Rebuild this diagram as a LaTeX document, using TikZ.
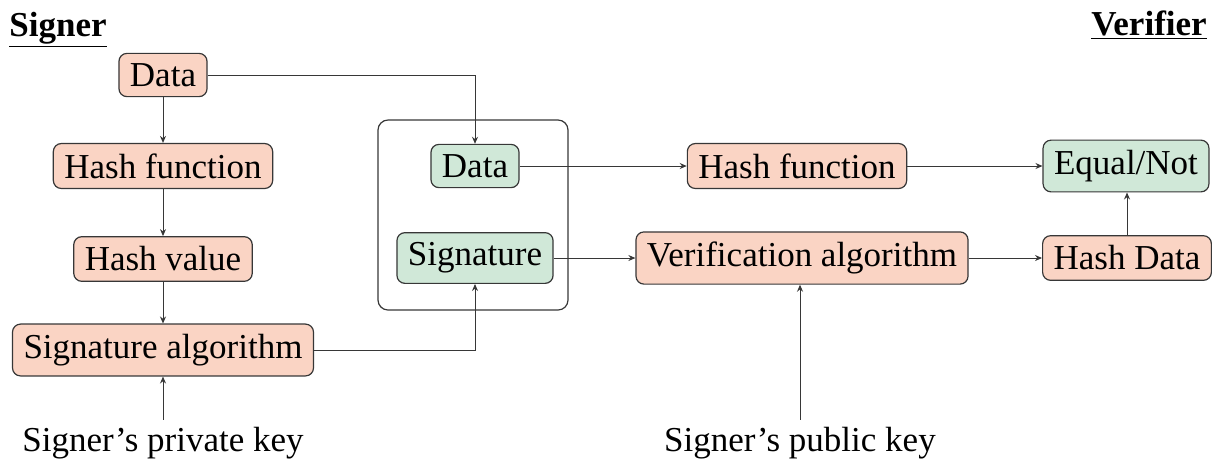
\documentclass[tikz,border=0pt]{standalone}
\usepackage{fontspec}
\setmainfont{Liberation Serif}
\usetikzlibrary{arrows.meta}
\definecolor{boxorange}{RGB}{250,212,196}
\definecolor{boxgreen}{RGB}{208,232,216}
\definecolor{edge}{RGB}{55,55,55}
\begin{document}
\begin{tikzpicture}[x=0.5pt,y=-0.5pt,
  font=\fontsize{17.5}{20}\selectfont,
  blk/.style={draw=edge, line width=0.6pt, rounded corners=4pt, inner xsep=5.5pt, inner ysep=5pt},
  proc/.style={blk, fill=boxorange},
  item/.style={blk, fill=boxgreen},
  link/.style={draw=edge, line width=0.5pt, -{Stealth[length=3.5pt,width=3pt]}},
]
\clip (0,0) rectangle (1213,463);

% column headings
\node[anchor=base] (signer) at (58,36) {\underline{\textbf{Signer}}};
\node[anchor=base] (verifier) at (1149,35) {\underline{\textbf{Verifier}}};

% signing side
\node[proc] (data) at (163,75) {Data};
\node[proc] (hash) at (163,166) {Hash function};
\node[proc] (hval) at (163,259) {Hash value};
\node[proc] (salg) at (163,350) {Signature algorithm};
\node[anchor=base] (priv) at (163,451) {Signer’s private key};

% transmitted message
\node[draw=edge, line width=0.6pt, rounded corners=5pt, minimum width=95pt, minimum height=95pt] (frame) at (473,215) {};
\node[item] (sdata) at (475,166) {Data};
\node[item] (sig) at (475,258) {Signature};

% verifying side
\node[proc] (vhash) at (797,166) {Hash function};
\node[proc] (valg) at (802,258) {Verification algorithm};
\node[item] (eq) at (1126,166) {Equal/Not};
\node[proc] (hdata) at (1127,258) {Hash Data};
\node[anchor=base] (pub) at (800,451) {Signer’s public key};

% connectors
\draw[link] (data.east) -| (sdata.north);
\draw[link] (data) -- (hash);
\draw[link] (hash) -- (hval);
\draw[link] (hval) -- (salg);
\draw[link] (priv.north) -- (salg.south);
\draw[link] (salg.east) -| (sig.south);
\draw[link] (sdata) -- (vhash);
\draw[link] (vhash) -- (eq);
\draw[link] (sig) -- (valg);
\draw[link] (valg) -- (hdata);
\draw[link] (hdata.north) -- (hdata.north |- eq.south);
\draw[link] (pub.north) -- (pub.north |- valg.south);
\end{tikzpicture}
\end{document}
